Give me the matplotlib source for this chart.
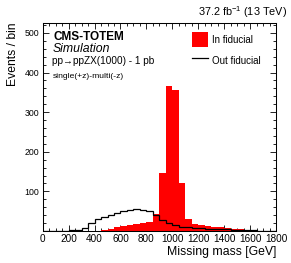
import numpy as np
import matplotlib
matplotlib.use("Agg")
import matplotlib.pyplot as plt
from matplotlib.ticker import MultipleLocator
from matplotlib.patches import Patch
from matplotlib.lines import Line2D

plt.rcParams['font.family'] = ['Liberation Sans', 'DejaVu Sans']
plt.rcParams['mathtext.fontset'] = 'custom'
plt.rcParams['mathtext.rm'] = 'Liberation Sans'
plt.rcParams['mathtext.it'] = 'Liberation Sans:italic'
plt.rcParams['mathtext.bf'] = 'Liberation Sans:bold'

# ---- data ----
bin_edges = np.arange(0, 1801, 50)
in_fiducial = [0, 0, 0, 0, 0, 0, 0, 0, 0,
               3, 6, 10, 13, 15, 18, 20, 23, 42,
               146, 366, 356, 120, 30, 17, 15, 12, 10,
               9, 7, 5, 4, 3, 2, 1, 0.5, 0]
out_fiducial = [0, 0.5, 1, 1, 2, 3, 7, 19, 30,
                36, 41, 46, 50, 53, 56, 54, 50, 40,
                28, 19, 14, 11, 9, 8, 7, 6, 5,
                4.5, 4, 3, 2.5, 2, 1.5, 1, 0.5, 0.3]
x_ticks = [0, 200, 400, 600, 800, 1000, 1200, 1400, 1600, 1800]
x_tick_labels = ['0', '200', '400', '600', '800', '1000', '1200', '1400', '1600', '1800']
y_ticks = [0, 100, 200, 300, 400, 500]
y_tick_labels = ['', '100', '200', '300', '400', '500']
series_labels = ['In fiducial', 'Out fiducial']

W, H = 291, 263
fig = plt.figure(figsize=(W / 100, H / 100), dpi=100)
ax = fig.add_axes([42.7 / W, 32 / H, (276 - 42.7) / W, (231 - 23) / H])

ax.stairs(in_fiducial, bin_edges, fill=True, color='#ff0000', zorder=2)
ax.stairs(out_fiducial, bin_edges, fill=False, color='black', linewidth=0.9, zorder=3)

ax.set_xlim(0, 1800)
ax.set_ylim(0, 525)
ax.set_xticks(x_ticks, x_tick_labels)
ax.set_yticks(y_ticks, y_tick_labels)
ax.xaxis.set_minor_locator(MultipleLocator(50))
ax.yaxis.set_minor_locator(MultipleLocator(20))
ax.tick_params(which='both', direction='in', top=True, right=True, width=0.6, zorder=5)
ax.tick_params(which='major', length=4.4)
ax.tick_params(which='minor', length=2.2)
ax.tick_params(axis='x', which='major', labelsize=7.2, pad=2.5)
ax.tick_params(axis='y', which='major', labelsize=6.3, pad=2.6)
for s in ax.spines.values():
    s.set_linewidth(0.75)
    s.set_zorder(6)

ax.set_xlabel('Missing mass [GeV]', fontsize=8.8, loc='right')
ax.xaxis.set_label_coords(1.0, (231 - 252) / 208)
ax.xaxis.label.set_verticalalignment('center')
ax.set_ylabel('Events / bin', fontsize=8.7, loc='top')
ax.yaxis.set_label_coords((13.5 - 42.7) / 233.3, 1.0)
ax.yaxis.label.set_verticalalignment('center')

def fx(px):
    return px / W

def fy(py):
    return 1 - py / H

fig.text(fx(287), fy(12.5), '37.2 fb$^{-1}$ (13 TeV)', ha='right', va='center', fontsize=7.8)
fig.text(fx(53), fy(37.3), 'CMS-TOTEM', ha='left', va='center', fontsize=8.5, fontweight='bold')
fig.text(fx(53), fy(49.3), 'Simulation', ha='left', va='center', fontsize=8.8, fontstyle='italic')
fig.text(fx(52.5), fy(61), 'pp\u2192ppZX(1000) - 1 pb', ha='left', va='center', fontsize=7.2)
fig.text(fx(52.5), fy(77), 'single(+z)-multi(-z)', ha='left', va='center', fontsize=6.1)

handles = [Patch(facecolor='#ff0000', edgecolor='none'),
           Line2D([], [], color='black', linewidth=0.9)]
leg = ax.legend(handles, series_labels, loc='upper left',
                bbox_to_anchor=(fx(192.3), fy(32.3)), bbox_transform=fig.transFigure,
                frameon=False, fontsize=7, borderpad=0, borderaxespad=0,
                handlelength=1.6, handleheight=2.0, handletextpad=0.42,
                labelspacing=0.6)

fig.savefig('out.png', dpi=100)
